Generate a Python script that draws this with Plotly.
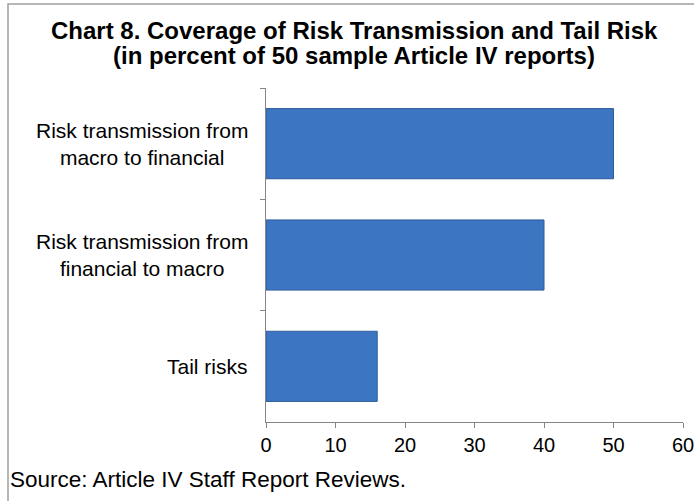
import plotly.graph_objects as go

# Share of sampled Article IV reports covering each topic (percent)
categories = [
    "Risk transmission from<br>macro to financial",
    "Risk transmission from<br>financial to macro",
    "Tail risks",
]
coverage_pct = [50, 40, 16]
x_ticks = [0, 10, 20, 30, 40, 50, 60]
title_lines = [
    "Chart 8. Coverage of Risk Transmission and Tail Risk",
    "(in percent of 50 sample Article IV reports)",
]
source_note = "Source: Article IV Staff Report Reviews."

W, H = 694, 501
L, R, T, B = 266, 11, 88, 79
pw, ph = W - L - R, H - T - B

FAMILY = "Liberation Sans, Arial, sans-serif"
BLACK = "#000000"
AXIS_GRAY = "#868686"


def px_x(px):
    """Horizontal pixel position -> paper coordinate."""
    return (px - L) / pw


def px_y(py):
    """Vertical pixel position (from top) -> paper coordinate."""
    return (H - B - py) / ph


fig = go.Figure(
    go.Bar(
        x=coverage_pct,
        y=categories,
        orientation="h",
        width=0.63,
        marker=dict(color="#3C75C2", line=dict(color="#2E5C9A", width=1)),
        hoverinfo="x+y",
    )
)

annotations = []

# Two-line bold title
for text, y_px in zip(title_lines, [30, 56]):
    annotations.append(
        dict(
            text=f"<b>{text}</b>",
            xref="paper",
            yref="paper",
            x=px_x(354),
            y=px_y(y_px),
            xanchor="center",
            yanchor="middle",
            showarrow=False,
            font=dict(family=FAMILY, size=24, color=BLACK),
        )
    )

# Category labels, centred line-by-line and right-anchored beside the axis
for cat in categories:
    annotations.append(
        dict(
            text=cat,
            xref="paper",
            yref="y",
            x=px_x(250),
            y=cat,
            xanchor="right",
            yanchor="middle",
            align="center",
            showarrow=False,
            font=dict(family=FAMILY, size=21, color=BLACK),
        )
    )

# Source note
annotations.append(
    dict(
        text=source_note,
        xref="paper",
        yref="paper",
        x=px_x(8),
        y=px_y(479),
        xanchor="left",
        yanchor="middle",
        showarrow=False,
        font=dict(family=FAMILY, size=22.5, color=BLACK),
    )
)

fig.update_layout(
    width=W,
    height=H,
    margin=dict(l=L, r=R, t=T, b=B, autoexpand=False),
    paper_bgcolor="white",
    plot_bgcolor="white",
    showlegend=False,
    font=dict(family=FAMILY, size=20, color=BLACK),
    xaxis=dict(
        range=[0, 60],
        tickvals=x_ticks,
        automargin=False,
        ticklabeloverflow="allow",
        showgrid=False,
        zeroline=False,
        showline=True,
        linecolor=AXIS_GRAY,
        linewidth=1,
        ticks="outside",
        ticklen=5,
        tickcolor=AXIS_GRAY,
        tickfont=dict(family=FAMILY, size=20, color=BLACK),
        fixedrange=True,
    ),
    yaxis=dict(
        categoryorder="array",
        categoryarray=categories,
        autorange="reversed",
        automargin=False,
        showgrid=False,
        zeroline=False,
        showline=True,
        linecolor=AXIS_GRAY,
        linewidth=1,
        ticks="outside",
        tickson="boundaries",
        ticklen=5,
        tickcolor=AXIS_GRAY,
        showticklabels=False,
        fixedrange=True,
    ),
    annotations=annotations,
    shapes=[
        dict(
            type="rect",
            xref="paper",
            yref="paper",
            x0=px_x(8),
            x1=px_x(W + 5),
            y0=px_y(H + 5),
            y1=px_y(4),
            line=dict(color="#A0A0A0", width=1.5),
            fillcolor="rgba(0,0,0,0)",
            layer="below",
        )
    ],
)

fig.write_html("out.html")
